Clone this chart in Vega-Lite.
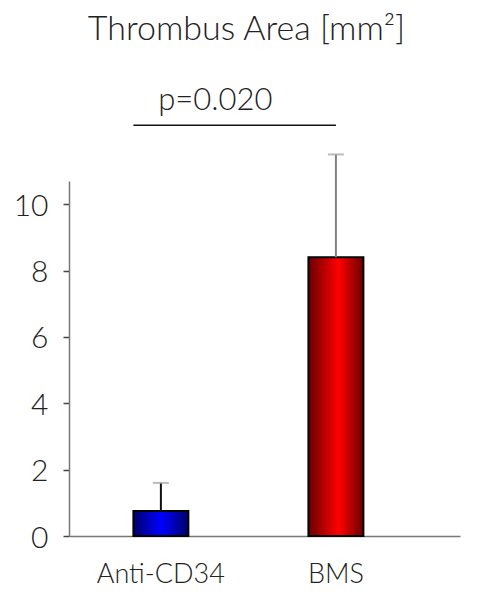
{
  "$schema": "https://vega.github.io/schema/vega-lite/v6.json",
  "autosize": "none",
  "width": 391,
  "height": 355,
  "padding": {"left": 69, "top": 181, "right": 31, "bottom": 60},
  "background": "white",
  "title": {
    "text": "Thrombus Area [mm²]",
    "font": "Lato",
    "fontWeight": 300,
    "fontSize": 34,
    "color": "#222222",
    "frame": "group",
    "anchor": "middle",
    "dx": -18,
    "offset": 38
  },
  "config": {"view": {"stroke": null}},
  "datasets": {
    "bars": [
      {"group": "Anti-CD34", "mean": 0.75, "upper": 1.6},
      {"group": "BMS", "mean": 8.4, "upper": 11.5}
    ],
    "sig": [
      {"a": "Anti-CD34", "b": "BMS", "y": 12.38, "ty": 13.1, "label": "p=0.020"}
    ]
  },
  "layer": [
    {
      "data": {"name": "bars"},
      "mark": {"type": "bar", "stroke": "black", "strokeWidth": 2, "clip": false},
      "encoding": {
        "x": {
          "field": "group",
          "type": "nominal",
          "sort": ["Anti-CD34", "BMS"],
          "scale": {"paddingInner": 0.686, "paddingOuter": 0.46, "align": 0.4},
          "axis": {
            "title": null,
            "labelAngle": 0,
            "ticks": false,
            "labelFont": "Lato",
            "labelFontWeight": 300,
            "labelFontSize": 27,
            "labelColor": "#222222",
            "labelPadding": 25,
            "domainColor": "#777777",
            "domainWidth": 1.5
          }
        },
        "y": {
          "field": "mean",
          "type": "quantitative",
          "scale": {"domain": [0, 10.7], "nice": false, "zero": true},
          "axis": {
            "title": null,
            "values": [0, 2, 4, 6, 8, 10],
            "grid": false,
            "tickSize": 6,
            "tickColor": "#444444",
            "tickWidth": 1.5,
            "labelFont": "Lato",
            "labelFontWeight": 300,
            "labelFontSize": 30,
            "labelColor": "#222222",
            "labelPadding": 15,
            "labelOffset": 2,
            "domainColor": "#777777",
            "domainWidth": 1.5
          }
        },
        "fill": {
          "condition": {
            "test": "datum.group === 'BMS'",
            "value": {
              "gradient": "linear", "x1": 0, "x2": 1, "y1": 0, "y2": 0,
              "stops": [
                {"offset": 0, "color": "#6a0000"},
                {"offset": 0.55, "color": "#ff0000"},
                {"offset": 1, "color": "#6a0000"}
              ]
            }
          },
          "value": {
            "gradient": "linear", "x1": 0, "x2": 1, "y1": 0, "y2": 0,
            "stops": [
              {"offset": 0, "color": "#00006a"},
              {"offset": 0.5, "color": "#0000ff"},
              {"offset": 1, "color": "#00006a"}
            ]
          }
        }
      }
    },
    {
      "data": {"name": "bars"},
      "mark": {"type": "rule", "strokeWidth": 2, "clip": false},
      "encoding": {
        "x": {"field": "group", "type": "nominal", "sort": ["Anti-CD34", "BMS"]},
        "y": {"field": "mean", "type": "quantitative"},
        "y2": {"field": "upper"},
        "color": {
          "condition": {"test": "datum.group === 'BMS'", "value": "#808080"},
          "value": "#111111"
        }
      }
    },
    {
      "data": {"name": "bars"},
      "mark": {"type": "tick", "orient": "horizontal", "size": 16, "thickness": 2, "color": "#a0a0a0", "clip": false},
      "encoding": {
        "x": {"field": "group", "type": "nominal", "sort": ["Anti-CD34", "BMS"]},
        "y": {"field": "upper", "type": "quantitative"}
      }
    },
    {
      "data": {"name": "sig"},
      "mark": {"type": "rule", "strokeWidth": 1.5, "color": "#111111", "clip": false},
      "encoding": {
        "x": {"field": "a", "type": "nominal", "bandPosition": 0},
        "x2": {"field": "b", "bandPosition": 0.5},
        "y": {"field": "y", "type": "quantitative"}
      }
    },
    {
      "data": {"name": "sig"},
      "mark": {"type": "text", "font": "Lato", "fontWeight": 300, "fontSize": 31, "color": "#222222", "baseline": "middle", "align": "center", "clip": false},
      "encoding": {
        "x": {"field": "a", "type": "nominal", "bandPosition": 1.49},
        "y": {"field": "ty", "type": "quantitative"},
        "text": {"field": "label"}
      }
    }
  ]
}
